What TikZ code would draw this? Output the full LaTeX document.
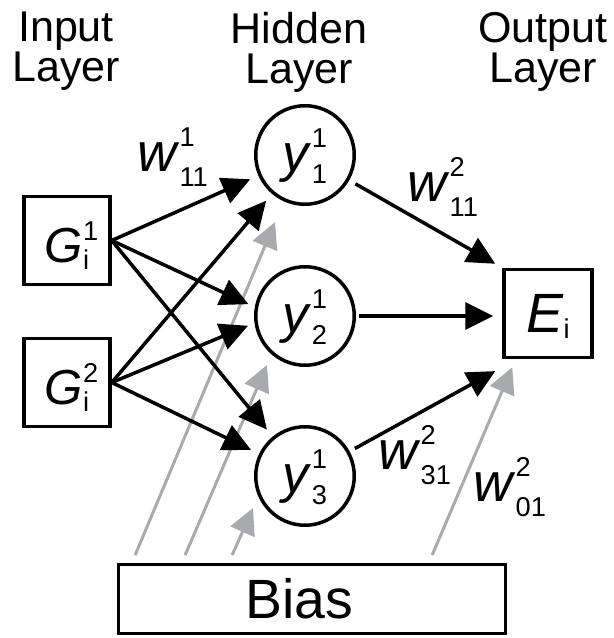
\documentclass[tikz,border=0pt]{standalone}
\usepackage{fontspec}
\setmainfont{Liberation Sans}
\usetikzlibrary{arrows.meta,positioning,calc}
\definecolor{biasgray}{RGB}{168,170,173}
\newcommand{\nnlab}[4][0.27em]{\textit{#2}\rlap{\raisebox{0.46em}{\fontsize{15.5}{15.5}\selectfont #3}}\raisebox{-#1}{\fontsize{15.5}{15.5}\selectfont #4}}

\begin{document}
\begin{tikzpicture}[
  every node/.style={align=center},
  layer/.style={font=\fontsize{24.5}{22.7}\selectfont, inner sep=0pt, anchor=north},
  unit/.style={draw, line width=0.07cm, minimum width=1.72cm, minimum height=1.76cm,
               font=\fontsize{28}{28}\selectfont, text height=0.9cm, text depth=0cm},
  neuron/.style={draw, circle, line width=0.07cm, minimum size=1.97cm,
                 font=\fontsize{30}{30}\selectfont, text height=0.68cm, text depth=0cm},
  biasbox/.style={draw, line width=0.055cm, minimum width=7.74cm, minimum height=1.38cm,
                  font=\fontsize{31.5}{31.5}\selectfont},
  weight/.style={font=\fontsize{31}{31}\selectfont, inner sep=0pt, anchor=base west},
  arr/.style={-{Triangle[length=0.56cm,width=0.54cm]}, line width=0.07cm, black},
  biasarr/.style={-{Triangle[length=0.52cm,width=0.52cm]}, line width=0.06cm, biasgray},
]
\useasboundingbox (0,0) rectangle (12.26,12.76);

%% --- Layer titles ---
\node[layer] (inlab)  at ( 1.32,12.52) {Input\\Layer};
\node[layer] (hidlab) at ( 5.98,12.52) {Hidden\\Layer};
\node[layer] (outlab) at (10.86,12.52) {Output\\Layer};

%% --- Input units ---
\node[unit] (G1) at (1.34,7.95) {\nnlab[0.14em]{G}{1}{i}};
\node[unit] (G2) at (1.34,5.11) {\nnlab[0.14em]{G}{2}{i}};

%% --- Hidden neurons ---
\node[neuron] (y1) at (6.10,9.66) {\nnlab[0.22em]{y}{1}{1}};
\node[neuron] (y2) at (6.10,6.44) {\nnlab[0.22em]{y}{1}{2}};
\node[neuron] (y3) at (6.10,3.24) {\nnlab[0.22em]{y}{1}{3}};

%% --- Output unit ---
\node[unit, minimum width=1.76cm, font=\fontsize{31.5}{31.5}\selectfont, text height=0.78cm]
  (E) at (10.96,6.49) {\nnlab[0.1em]{E}{}{i}};

%% --- Bias ---
\node[biasbox] (bias) at (6.24,0.78) {Bias\rule{0.52cm}{0pt}};

%% --- Bias connectors (grey) ---
\coordinate (b1) at ($(bias.north west)+(0.36,0.16)$);
\coordinate (b2) at ($(bias.north west)+(1.36,0.16)$);
\coordinate (b3) at ($(bias.north west)+(2.30,0.16)$);
\coordinate (b4) at ($(bias.north west)+(6.30,0.16)$);
\coordinate (t1) at ($(y1)+(-0.60,-1.34)$);
\coordinate (t2) at ($(y2)+(-0.76,-0.98)$);
\coordinate (t3) at ($(y3)+(-1.04,-0.64)$);
\coordinate (t4) at ($(E.south west)+(0.20,-0.16)$);
\draw[biasarr] (b1) -- (t1);
\draw[biasarr] (b2) -- (t2);
\draw[biasarr] (b3) -- (t3);
\draw[biasarr] (b4) -- (t4);

%% --- Input -> hidden ---
\draw[arr, shorten >=0.18cm] (G1.east) -- (y1);
\draw[arr, shorten >=0.14cm] (G1.east) -- (y2.170);
\draw[arr, shorten >=0.18cm] (G1.east) -- (y3);
\draw[arr, shorten >=0.18cm] (G2.east) -- (y1);
\draw[arr, shorten >=0.14cm] (G2.east) -- (y2.188);
\draw[arr, shorten >=0.18cm] (G2.east) -- (y3);

%% --- Hidden -> output ---
\draw[arr, shorten <=0.14cm, shorten >=0.16cm] (y1) -- (E.north west);
\draw[arr, shorten <=0.06cm, shorten >=0.18cm] (y2.east) -- (y2.east -| E.west);
\draw[arr, shorten <=0.12cm, shorten >=0.16cm] (y3) -- ([yshift=-0.16cm]E.south west);

%% --- Weights ---
\node[weight] (w111) at (2.74,9.32) {\nnlab{w}{1}{11}};
\node[weight] (w211) at (8.14,8.72) {\nnlab{w}{2}{11}};
\node[weight] (w231) at (7.56,3.36) {\nnlab{w}{2}{31}};
\node[weight] (w201) at (9.46,2.72) {\nnlab{w}{2}{01}};

\end{tikzpicture}
\end{document}
